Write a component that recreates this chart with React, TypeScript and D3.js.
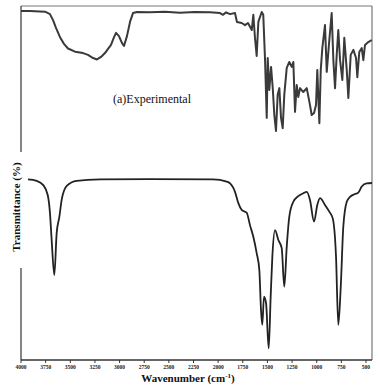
import React from 'react';
import * as d3 from 'd3';

const width = 380;
const height = 388;
const plot = {left: 21, right: 372, top: 6, bottom: 360};

// wavenumber (cm-1) / transmittance (%)
const expWavenumber = [
  4000, 3909, 3756, 3706, 3675, 3645, 3604, 3564, 3523, 3452, 3371, 3320, 3269, 3229, 3188, 3148,
  3117, 3087, 3056, 3036, 3006, 2975, 2955, 2925, 2894, 2864, 2823, 2691, 2539, 2387, 2235, 2082,
  1981, 1950, 1920, 1879, 1829, 1809, 1761, 1727, 1697, 1659, 1643, 1626, 1609, 1592, 1558, 1542,
  1524, 1507, 1497, 1481, 1463, 1446, 1430, 1413, 1396, 1379, 1362, 1345, 1329, 1304, 1278, 1253,
  1237, 1220, 1203, 1187, 1169, 1136, 1101, 1068, 1051, 1027, 1007, 994, 973, 959, 943, 916,
  898, 872, 848, 831, 814, 797, 781, 763, 740, 720, 695, 679, 655, 628, 601, 588,
  568, 543, 527, 510, 476, 442,
];
const expTransmittance = [
  98.6, 98.6, 98.4, 97.7, 96.0, 93.8, 91.2, 89.3, 88.0, 87.1, 86.7, 86.2, 85.3, 84.9, 85.6, 86.7,
  87.9, 89.0, 91.2, 92.4, 91.5, 89.5, 88.7, 91.5, 95.5, 98.0, 98.3, 98.2, 98.4, 98.1, 98.3, 98.2,
  98.0, 97.5, 98.2, 97.7, 98.0, 95.5, 95.2, 94.6, 95.2, 93.2, 97.5, 90.9, 85.9, 95.5, 98.3, 97.5,
  84.7, 68.4, 85.3, 76.3, 82.8, 76.8, 69.2, 64.7, 74.9, 76.8, 68.4, 65.5, 74.9, 82.5, 84.2, 82.8,
  84.2, 70.1, 77.7, 74.3, 76.8, 75.7, 76.8, 72.0, 69.2, 69.8, 72.0, 81.9, 66.9, 81.9, 88.1, 94.6,
  81.4, 90.4, 98.0, 84.7, 76.8, 86.2, 93.2, 84.7, 79.1, 91.0, 81.9, 74.0, 86.2, 87.6, 85.3, 79.9,
  87.0, 88.1, 84.7, 89.0, 89.8, 90.4,
];

const calcWavenumber = [
  3929, 3841, 3774, 3729, 3706, 3689, 3662, 3638, 3611, 3587, 3536, 3435, 3198, 2691, 2052, 1913,
  1879, 1846, 1829, 1795, 1761, 1710, 1677, 1643, 1609, 1582, 1565, 1552, 1535, 1514, 1487, 1467,
  1450, 1423, 1389, 1355, 1329, 1304, 1278, 1237, 1187, 1136, 1101, 1068, 1027, 994, 966, 916,
  872, 837, 804, 781, 756, 730, 695, 662, 611, 578, 543, 493, 439,
];
const calcTransmittance = [
  51.0, 50.6, 49.4, 46.6, 41.5, 33.9, 24.0, 35.9, 40.4, 45.3, 49.2, 50.6, 51.0, 51.1, 51.0, 50.4,
  49.9, 48.6, 47.5, 44.3, 42.4, 41.6, 38.1, 34.8, 30.2, 25.4, 14.1, 9.9, 17.9, 16.1, 3.3, 17.9,
  29.2, 36.7, 33.9, 31.6, 20.7, 32.0, 40.5, 44.7, 46.3, 47.1, 47.5, 45.2, 39.1, 43.8, 45.7, 43.8,
  41.9, 40.0, 29.2, 9.9, 20.7, 37.7, 44.7, 46.1, 46.9, 47.3, 49.0, 49.9, 50.0,
];

const xTicks = [4000, 3750, 3500, 3250, 3000, 2750, 2500, 2250, 2000, 1750, 1500, 1250, 1000, 750, 500];

const App: React.FC = () => {
  const xScale = d3.scaleLinear().domain([4000, 439]).range([plot.left, plot.right]);
  const yScale = d3.scaleLinear().domain([0, 100]).range([plot.bottom, plot.top]);

  const line = d3.line<[number, number]>()
    .x(d => xScale(d[0]))
    .y(d => yScale(d[1]));

  const expPath = line(expWavenumber.map((w, i) => [w, expTransmittance[i]])) || '';
  const calcPath = line.curve(d3.curveMonotoneX)(calcWavenumber.map((w, i) => [w, calcTransmittance[i]])) || '';

  const serif = 'Liberation Serif, Times New Roman, serif';

  return (
    <div style={{position: 'absolute', left: 0, top: 0}}>
      <svg width={width} height={height} style={{display: 'block', background: '#fff'}}>
        {/* frame */}
        <line x1={plot.left} x2={plot.right} y1={plot.top} y2={plot.top} stroke='#777' strokeWidth={1.2} />
        <line x1={plot.right} x2={plot.right} y1={plot.top} y2={plot.bottom} stroke='#777' strokeWidth={1.2} />
        <line x1={plot.left} x2={plot.left} y1={plot.top} y2={152} stroke='#444' strokeWidth={1.3} />
        <line x1={plot.left} x2={plot.left} y1={268} y2={plot.bottom} stroke='#444' strokeWidth={1.3} />
        <line x1={plot.left} x2={plot.right} y1={plot.bottom} y2={plot.bottom} stroke='#333' strokeWidth={1.4} />

        {xTicks.map(t => (
          <g key={t} transform={`translate(${xScale(t)}, ${plot.bottom})`}>
            <line y1={0} y2={3} stroke='#333' strokeWidth={1} />
            <text y={9} textAnchor='middle' fontSize={5.5} fontWeight='bold' fontFamily={serif} fill='#222'>{t}</text>
          </g>
        ))}

        <path d={expPath} fill='none' stroke='#3a3a3a' strokeWidth={2} strokeLinejoin='round' />
        <path d={calcPath} fill='none' stroke='#222' strokeWidth={1.8} strokeLinejoin='round' />

        <text x={113} y={103} fontSize={12} fontFamily={serif} fill='#111'>(a)Experimental</text>

        <text
          transform={`translate(19.5, 207) rotate(-90)`}
          textAnchor='middle'
          fontSize={11}
          fontWeight='bold'
          fontFamily={serif}
          fill='#111'
        >
          Transmittance (%)
        </text>

        <text x={188} y={382} textAnchor='middle' fontSize={11} fontWeight='bold' fontFamily={serif} fill='#111'>
          Wavenumber (cm<tspan dy={-4} fontSize={7}>-1</tspan><tspan dy={4}>)</tspan>
        </text>
      </svg>
    </div>
  );
};

export default App;
